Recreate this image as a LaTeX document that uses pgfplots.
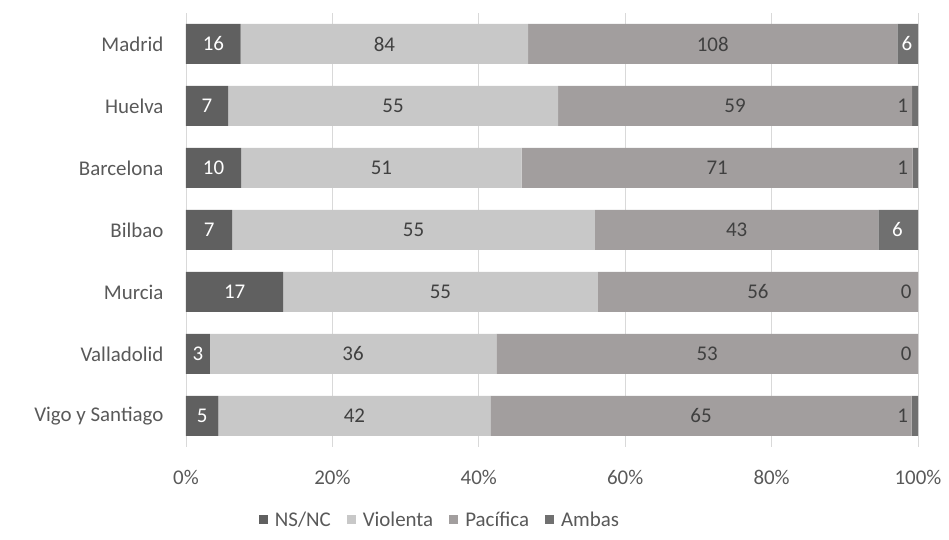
\documentclass[border=0pt]{standalone}
\usepackage{pgfplots}
\pgfplotsset{compat=1.18}
\usepackage{fontspec}
\setmainfont{Carlito}
\definecolor{cns}{HTML}{606060}
\definecolor{cvi}{HTML}{C8C8C8}
\definecolor{cpa}{HTML}{A29E9E}
\definecolor{cam}{HTML}{707070}
\definecolor{ctxt}{HTML}{595959}
\definecolor{clab}{HTML}{404040}
\definecolor{cgrid}{HTML}{D9D9D9}
\begin{document}
\begin{tikzpicture}
\pgfplotsset{
  base/.style={
    name=#1,
    at={(0,0)}, anchor=south west,
    scale only axis, width=732bp, height=434bp,
    xmin=0, xmax=100, ymin=-0.5, ymax=6.5,
  }
}
\begin{axis}[base=ax,
  xbar stacked, bar width=40bp,
  font=\fontsize{21}{25}\selectfont,
  /pgf/number format/assume math mode=true,
  xtick={0,20,...,100},
  xticklabel={\pgfmathprintnumber{\tick}\%},
  xticklabel style={text=ctxt, yshift=-20bp},
  ytick={0,...,6},
  yticklabels={Vigo y Santiago,Valladolid,Murcia,Bilbao,Barcelona,Huelva,Madrid},
  yticklabel style={text=ctxt, xshift=-19bp},
  major tick length=0pt,
  xmajorgrids, grid style={cgrid, line width=0.8bp},
  axis x line*=none, axis y line*=left,
  axis line style={draw=none},
  y axis line style={draw=cgrid, line width=0.8bp},
  legend style={at={(0.347,-0.168)}, anchor=center, draw=none, legend columns=4,
    font=\fontsize{21}{25}\selectfont, text=ctxt,
    /tikz/every odd column/.append style={column sep=5bp},
    /tikz/every even column/.append style={column sep=14bp}},
  legend image code/.code={\fill[#1] (0bp,-4bp) rectangle (9bp,5bp);},
]
\addplot[fill=cns, draw=none] coordinates {(4.425,0) (3.261,1) (13.281,2) (6.306,3) (7.519,4) (5.738,5) (7.477,6)};
\addplot[fill=cvi, draw=none] coordinates {(37.168,0) (39.130,1) (42.969,2) (49.550,3) (38.346,4) (45.082,5) (39.252,6)};
\addplot[fill=cpa, draw=none] coordinates {(57.522,0) (57.609,1) (43.750,2) (38.739,3) (53.383,4) (48.361,5) (50.467,6)};
\addplot[fill=cam, draw=none] coordinates {(0.885,0) (0,1) (0,2) (5.405,3) (0.752,4) (0.820,5) (2.804,6)};
\legend{NS/NC,Violenta,Pacífica,Ambas}
\end{axis}
\begin{axis}[base=lab, hide axis,
  font=\fontsize{21}{25}\selectfont,
  nodes near coords, point meta=explicit symbolic,
  nodes near coords align=center,
]
% NS/NC labels
\addplot[only marks, mark=none, every node near coord/.style={text=white, anchor=center}]
 coordinates {(2.212,0) [5] (1.630,1) [3] (6.641,2) [17] (3.153,3) [7] (3.759,4) [10] (2.869,5) [7] (3.738,6) [16]};
% Violenta labels
\addplot[only marks, mark=none, every node near coord/.style={text=clab, anchor=center}]
 coordinates {(23.009,0) [42] (22.826,1) [36] (34.766,2) [55] (31.081,3) [55] (26.692,4) [51] (28.279,5) [55] (27.103,6) [84]};
% Pacifica labels
\addplot[only marks, mark=none, every node near coord/.style={text=clab, anchor=center}]
 coordinates {(70.354,0) [65] (71.196,1) [53] (78.125,2) [56] (75.225,3) [43] (72.556,4) [71] (75.000,5) [59] (71.963,6) [108]};
% Ambas labels (dark)
\addplot[only marks, mark=none, every node near coord/.style={text=clab, anchor=center}]
 coordinates {(97.9,0) [1] (98.4,1) [0] (98.4,2) [0] (97.9,4) [1] (97.9,5) [1]};
% Ambas labels (white)
\addplot[only marks, mark=none, every node near coord/.style={text=white, anchor=center}]
 coordinates {(97.2,3) [6] (98.5,6) [6]};
\end{axis}
\pgfresetboundingbox
\path[use as bounding box] ([xshift=-186bp,yshift=-93bp]ax.south west) rectangle ([xshift=31bp,yshift=13bp]ax.north east);
\end{tikzpicture}
\end{document}
